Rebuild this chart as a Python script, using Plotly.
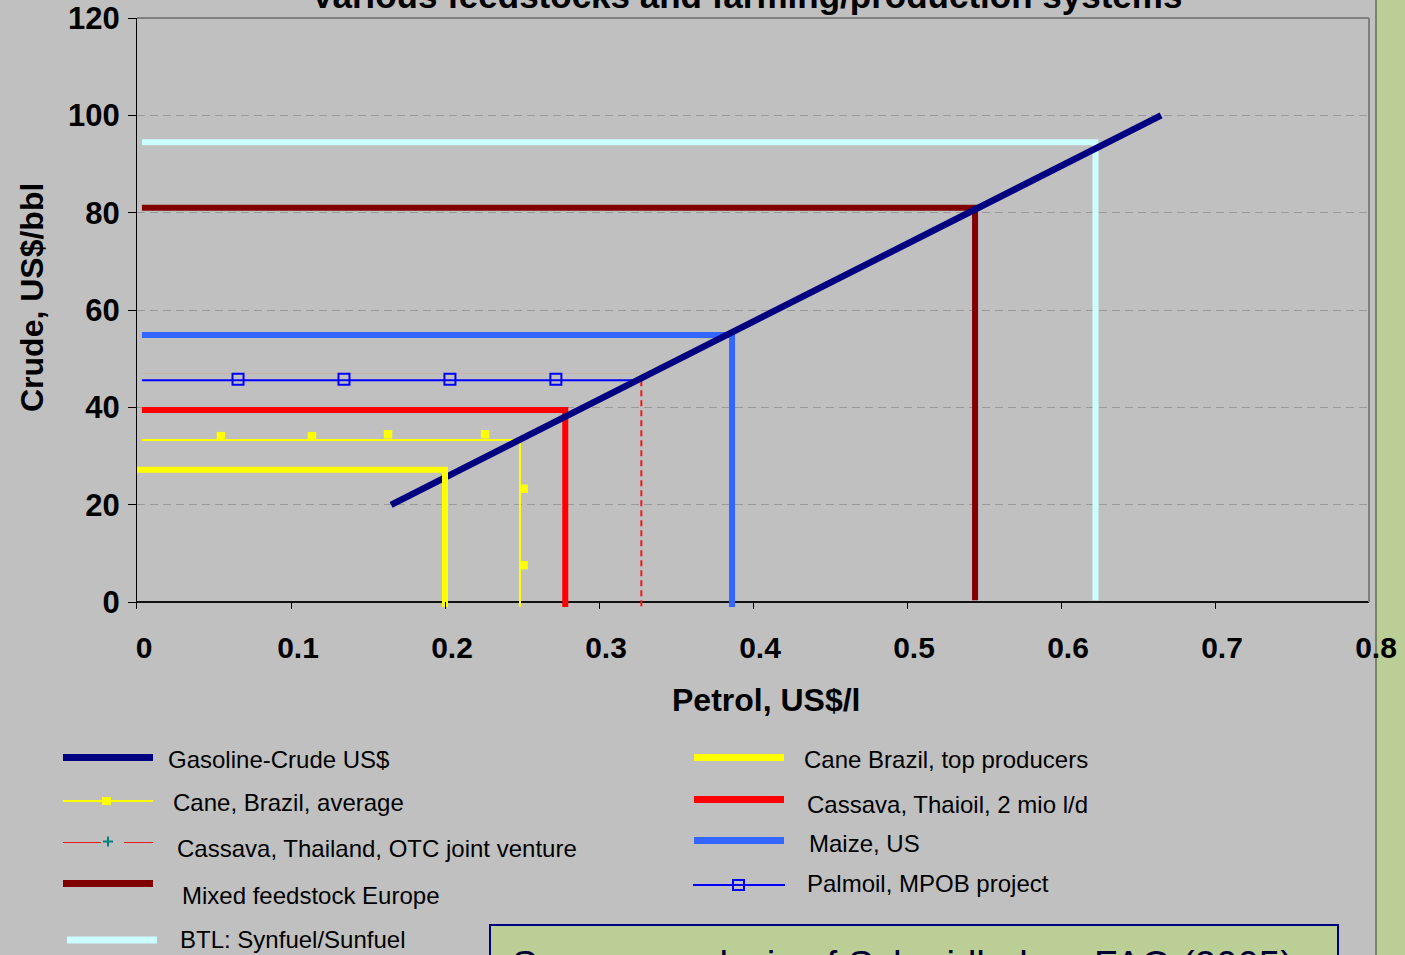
import plotly.graph_objects as go

# ---------------------------------------------------------------- data
# Gasoline / crude price parity line
crude_usd_bbl = [20, 40, 60, 80, 100]
petrol_usd_l = [0.165, 0.29, 0.415, 0.54, 0.665]

# Break-even points of ethanol / biofuel systems
series_names = [
    "Cane Brazil, top producers",
    "Cane, Brazil, average",
    "Cassava, Thaioil, 2 mio l/d",
    "Cassava, Thailand, OTC joint venture",
    "Maize, US",
    "Palmoil, MPOB project",
    "Mixed feedstock Europe",
    "BTL: Synfuel/Sunfuel",
]
breakeven_petrol = [0.200, 0.2487, 0.2781, 0.3275, 0.3864, 0.3247, 0.5442, 0.6224]
breakeven_crude = [27.2, 33.3, 39.5, 47.0, 54.9, 45.6, 81.0, 94.5]

# Marker points of the average Brazilian cane series
cane_avg_marker_petrol = [0.0545, 0.1136, 0.163, 0.226, 0.251, 0.251]
cane_avg_marker_crude = [34.1, 34.1, 34.5, 34.5, 23.3, 7.6]

# Marker points of the palm oil series
palm_marker_petrol = [0.0656, 0.1344, 0.2032, 0.272]
palm_marker_crude = [45.8, 45.8, 45.8, 45.8]

x_tick_vals = [0, 0.1, 0.2, 0.3, 0.4, 0.5, 0.6, 0.7, 0.8]
x_tick_text = ["0", "0.1", "0.2", "0.3", "0.4", "0.5", "0.6", "0.7", "0.8"]
y_tick_vals = [0, 20, 40, 60, 80, 100, 120]

title_text = "Various feedstocks and farming/production systems"
source_text = "Source: analysis of Schmidhuber, FAO (2005)"

# ---------------------------------------------------------------- styles
NAVY = "#000080"
STYLE = {
    "Gasoline-Crude US$": dict(color=NAVY, width=6.5),
    "Cane Brazil, top producers": dict(color="#FFFF00", width=6, start=0.0, drop=-1.0),
    "Cane, Brazil, average": dict(color="#FFFF00", width=2, start=0.0032, drop=-1.0),
    "Cassava, Thaioil, 2 mio l/d": dict(color="#FF0000", width=6, start=0.0032, drop=-1.0),
    "Cassava, Thailand, OTC joint venture": dict(color="#F01818", width=2, start=0.0032,
                                                 drop=-1.0, hcolor="#C8B2AC", dash="6px,4px"),
    "Maize, US": dict(color="#3366FF", width=6, start=0.0032, drop=-1.0),
    "Palmoil, MPOB project": dict(color="#0000FF", width=2, start=0.0032),
    "Mixed feedstock Europe": dict(color="#800000", width=6, start=0.0032, drop=0.4),
    "BTL: Synfuel/Sunfuel": dict(color="#CCFFFF", width=6, start=0.0032, drop=0.4),
}

FONT = "Arial, Liberation Sans, sans-serif"
BG = "#C0C0C0"
GREEN = "#BBCE95"

W, H = 1405, 955
M_L, M_R, M_T, M_B = 137, 36, 18, 346
PW, PH = W - M_L - M_R, H - M_T - M_B


def px(xp):
    return (xp - M_L) / PW


def py(yp):
    return (H - M_B - yp) / PH


fig = go.Figure()


def add_breakeven(name):
    i = series_names.index(name)
    s = STYLE[name]
    p, c = breakeven_petrol[i], breakeven_crude[i]
    if "hcolor" in s:
        # horizontal leg drawn faint, vertical leg dashed from the palm oil level
        top = breakeven_crude[series_names.index("Palmoil, MPOB project")]
        fig.add_trace(go.Scatter(x=[s["start"], p], y=[c, c], mode="lines",
                                 line=dict(color=s["hcolor"], width=1),
                                 hoverinfo="skip", showlegend=False))
        fig.add_trace(go.Scatter(x=[p, p], y=[top, s["drop"]], mode="lines",
                                 line=dict(color=s["color"], width=s["width"], dash=s["dash"]),
                                 hoverinfo="skip", showlegend=False))
        return
    xs, ys = [s["start"], p], [c, c]
    if "drop" in s:
        xs.append(p)
        ys.append(s["drop"])
    fig.add_trace(go.Scatter(x=xs, y=ys, mode="lines", name=name,
                             line=dict(color=s["color"], width=s["width"]),
                             hoverinfo="skip", showlegend=False))


for nm in ["Palmoil, MPOB project", "Mixed feedstock Europe", "BTL: Synfuel/Sunfuel",
           "Maize, US", "Cassava, Thailand, OTC joint venture", "Cane, Brazil, average",
           "Cassava, Thaioil, 2 mio l/d"]:
    add_breakeven(nm)

fig.add_trace(go.Scatter(x=palm_marker_petrol, y=palm_marker_crude, mode="markers",
                         marker=dict(symbol="square-open", size=11, color="#0000FF",
                                     line=dict(width=2, color="#0000FF")),
                         hoverinfo="skip", showlegend=False))
fig.add_trace(go.Scatter(x=cane_avg_marker_petrol, y=cane_avg_marker_crude, mode="markers",
                         marker=dict(symbol="square", size=8.5, color="#FFFF00"),
                         hoverinfo="skip", showlegend=False))

fig.add_trace(go.Scatter(x=petrol_usd_l, y=crude_usd_bbl, mode="lines",
                         name="Gasoline-Crude US$",
                         line=dict(color=NAVY, width=STYLE["Gasoline-Crude US$"]["width"]),
                         hoverinfo="skip", showlegend=False))
add_breakeven("Cane Brazil, top producers")

# ---------------------------------------------------------------- frame
shapes = [
    # olive strip on the right edge
    dict(type="rect", xref="paper", yref="paper", x0=px(1376), x1=px(1420),
         y0=py(1000), y1=py(-20), fillcolor=GREEN, line=dict(width=0), layer="below"),
    dict(type="line", xref="paper", yref="paper", x0=px(1376), x1=px(1376),
         y0=py(1000), y1=py(-20), line=dict(color="#3A3A3A", width=1), layer="below"),
    # plot area border, top and right
    dict(type="line", xref="paper", yref="paper", x0=0, x1=1, y0=1, y1=1,
         line=dict(color="#808080", width=2)),
    dict(type="line", xref="paper", yref="y", x0=1, x1=1, y0=0, y1=120,
         line=dict(color="#808080", width=2)),
    # source box
    dict(type="rect", xref="paper", yref="paper", x0=px(490), x1=px(1338),
         y0=py(1010), y1=py(925), fillcolor=GREEN, line=dict(color=NAVY, width=2)),
]

annotations = [
    dict(text=title_text, xref="paper", yref="paper", x=px(746), y=py(-5),
         xanchor="center", yanchor="middle", showarrow=False,
         font=dict(family=FONT, size=35, color="black", weight="bold")),
    dict(text="Crude, US$/bbl", xref="paper", yref="paper", x=px(32), y=py(298),
         xanchor="center", yanchor="middle", textangle=-90, showarrow=False,
         font=dict(family=FONT, size=32, color="black", weight="bold")),
    dict(text="Petrol, US$/l", xref="paper", yref="paper", x=px(766), y=py(700),
         xanchor="center", yanchor="middle", showarrow=False,
         font=dict(family=FONT, size=32, color="black", weight="bold")),
    dict(text=source_text, xref="paper", yref="paper", x=px(510), y=py(964),
         xanchor="left", yanchor="middle", showarrow=False,
         font=dict(family=FONT, size=38.5, color="#000033")),
]

# ---------------------------------------------------------------- legend
LEGEND_FONT = dict(family=FONT, size=24, color="black")
legend_items = [
    # name, swatch x0, x1, swatch y, text x, text y
    ("Gasoline-Crude US$", 63, 153, 757.5, 166, 759),
    ("Cane, Brazil, average", 63, 153, 801, 171, 802),
    ("Cassava, Thailand, OTC joint venture", 63, 153, 842.5, 175, 849),
    ("Mixed feedstock Europe", 63, 153, 883.5, 180, 895),
    ("BTL: Synfuel/Sunfuel", 67, 157, 940, 178, 940),
    ("Cane Brazil, top producers", 694, 784, 757.5, 802, 759),
    ("Cassava, Thaioil, 2 mio l/d", 694, 784, 799.5, 805, 804),
    ("Maize, US", 694, 784, 840.5, 807, 843),
    ("Palmoil, MPOB project", 693, 785, 885, 805, 884),
]

for name, x0, x1, ys, tx, ty in legend_items:
    s = STYLE[name]
    if name == "Cassava, Thailand, OTC joint venture":
        for a, b in [(x0, 101), (124, x1)]:
            shapes.append(dict(type="line", xref="paper", yref="paper", x0=px(a), x1=px(b),
                               y0=py(ys), y1=py(ys), line=dict(color=s["color"], width=1)))
        shapes.append(dict(type="line", xref="paper", yref="paper", x0=px(103), x1=px(113),
                           y0=py(ys - 1), y1=py(ys - 1), line=dict(color="#008080", width=2)))
        shapes.append(dict(type="line", xref="paper", yref="paper", x0=px(108), x1=px(108),
                           y0=py(ys - 6), y1=py(ys + 4), line=dict(color="#008080", width=2)))
    else:
        w = 7 if s["width"] > 3 else 2
        shapes.append(dict(type="line", xref="paper", yref="paper", x0=px(x0), x1=px(x1),
                           y0=py(ys), y1=py(ys), line=dict(color=s["color"], width=w)))
    if name == "Cane, Brazil, average":
        shapes.append(dict(type="rect", xref="paper", yref="paper", x0=px(102), x1=px(111),
                           y0=py(ys + 4), y1=py(ys - 4), fillcolor="#FFFF00",
                           line=dict(width=0)))
    if name == "Palmoil, MPOB project":
        shapes.append(dict(type="rect", xref="paper", yref="paper", x0=px(733), x1=px(744),
                           y0=py(ys + 5), y1=py(ys - 5), fillcolor="rgba(0,0,0,0)",
                           line=dict(color="#0000FF", width=2)))
    annotations.append(dict(text=name, xref="paper", yref="paper", x=px(tx), y=py(ty),
                            xanchor="left", yanchor="middle", showarrow=False,
                            font=LEGEND_FONT))

fig.update_layout(
    width=W, height=H,
    margin=dict(l=M_L, r=M_R, t=M_T, b=M_B, autoexpand=False),
    paper_bgcolor=BG, plot_bgcolor=BG,
    showlegend=False,
    shapes=shapes,
    annotations=annotations,
    xaxis=dict(
        range=[0, 0.8], tickvals=x_tick_vals, ticktext=x_tick_text,
        showgrid=False, zeroline=False, showline=False,
        ticks="inside", ticklen=7, tickwidth=1, tickcolor="black",
        tickfont=dict(family=FONT, size=30, color="black", weight="bold"),
        ticklabelstandoff=18, ticklabelshift=7, fixedrange=True,
    ),
    yaxis=dict(
        range=[-1.4, 120], tickvals=y_tick_vals,
        showgrid=True, gridcolor="#999999", gridwidth=1, griddash="8px,5px",
        zeroline=True, zerolinecolor="#111111", zerolinewidth=2,
        showline=True, linecolor="black", linewidth=1,
        ticks="outside", ticklen=8, tickwidth=1, tickcolor="black",
        tickfont=dict(family=FONT, size=31, color="black", weight="bold"),
        ticklabelstandoff=2, fixedrange=True,
    ),
)

fig.write_html("out.html")
